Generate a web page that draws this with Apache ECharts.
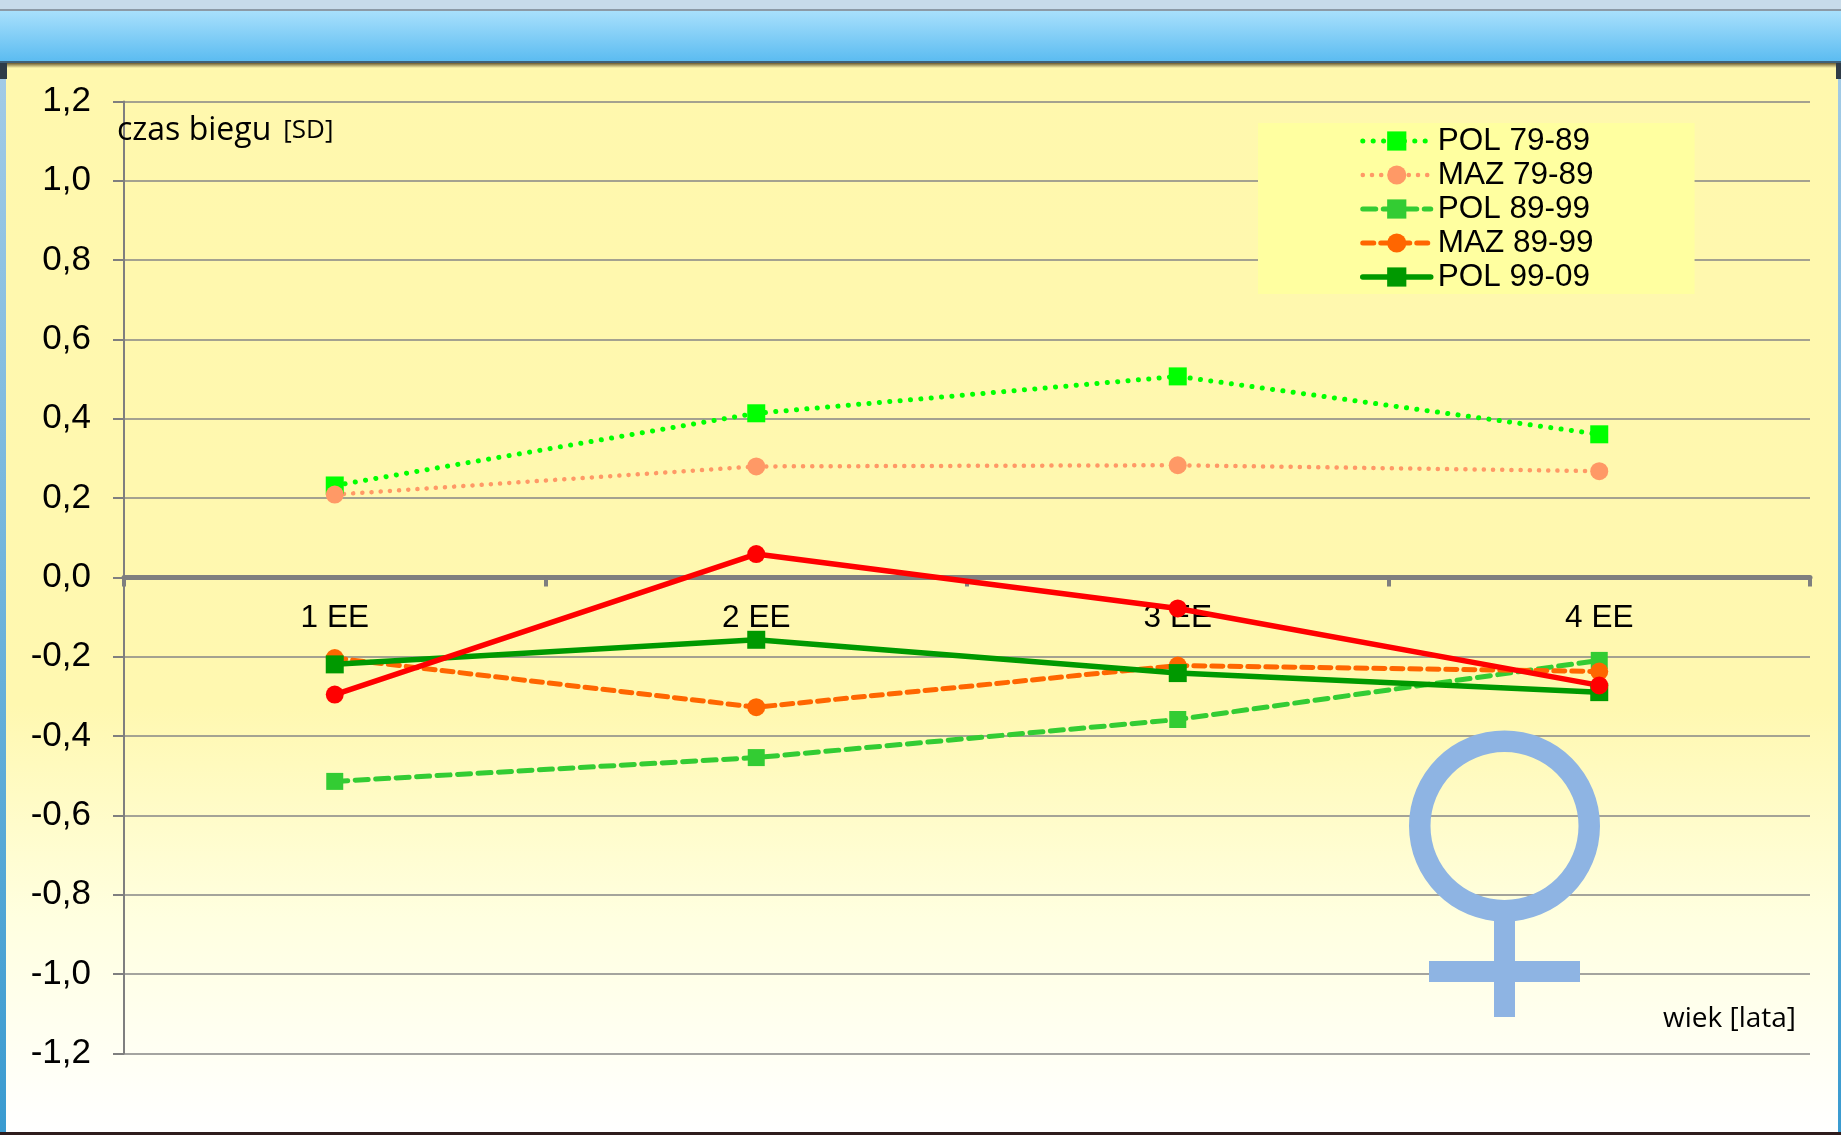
<!DOCTYPE html>
<html>
<head>
<meta charset="utf-8">
<style>
html, body { margin: 0; padding: 0; background: #fff; }
#chart { width: 1841px; height: 1135px; }
</style>
<script src="https://cdn.jsdelivr.net/npm/echarts@6/dist/echarts.min.js"></script>
</head>
<body>
<div id="chart"></div>
<script>
var categories = ['1 EE', '2 EE', '3 EE', '4 EE'];
var pol7989 = [0.232, 0.414, 0.507, 0.361];
var maz7989 = [0.209, 0.280, 0.283, 0.268];
var pol8999 = [-0.514, -0.454, -0.358, -0.209];
var maz8999 = [-0.203, -0.327, -0.222, -0.237];
var pol9909 = [-0.219, -0.157, -0.241, -0.289];
var maz9909 = [-0.295, 0.059, -0.078, -0.272];
var legendNames = ['POL 79-89', 'MAZ 79-89', 'POL 89-99', 'MAZ 89-99', 'POL 99-09'];

var sansFont = '"Liberation Sans", Arial, sans-serif';
var noteFont = '"Open Sans", "Noto Sans", sans-serif';
var axisGrey = '#7f7f7f';

function rect(x, y, w, h, fill, z) {
    return { type: 'rect', silent: true, z: z, shape: { x: x, y: y, width: w, height: h }, style: { fill: fill } };
}

function vGrad(stops) {
    return new echarts.graphic.LinearGradient(0, 0, 0, 1, stops);
}

function lineSeries(name, data, color, width, dash, symbol, size) {
    return {
        name: name,
        type: 'line',
        data: data,
        symbol: symbol,
        symbolSize: size,
        itemStyle: { color: color },
        lineStyle: { color: color, width: width, type: dash, cap: 'round' }
    };
}

var option = {
    animation: false,
    backgroundColor: 'transparent',
    grid: { left: 124, right: 31, top: 101.5, height: 952 },
    legend: {
        data: legendNames,
        orient: 'vertical',
        left: 1258,
        top: 123,
        padding: [2, 101, 1, 102],
        backgroundColor: '#ffffa0',
        itemWidth: 68,
        itemHeight: 24,
        itemGap: 2,
        lineStyle: { width: 'inherit', cap: 'inherit' },
        textStyle: { fontFamily: sansFont, fontSize: 31.5, color: '#000', lineHeight: 24, padding: [0, 0, 0, 2] }
    },
    xAxis: {
        type: 'category',
        data: categories,
        position: 'bottom',
        offset: -476,
        axisLine: { onZero: false, lineStyle: { color: axisGrey, width: 5 } },
        axisTick: { show: true, length: 9, lineStyle: { color: axisGrey, width: 4 } },
        axisLabel: { fontFamily: sansFont, fontSize: 31.5, color: '#000', margin: 25 }
    },
    yAxis: {
        type: 'value',
        min: -1.2,
        max: 1.2,
        interval: 0.2,
        axisLine: { show: true, onZero: false, lineStyle: { color: axisGrey, width: 2 } },
        axisTick: { show: true, length: 11, lineStyle: { color: axisGrey, width: 2 } },
        axisLabel: {
            fontFamily: sansFont, fontSize: 35, color: '#000', margin: 33, padding: [2, 0, 0, 0],
            formatter: function (v) { return v.toFixed(1).replace('.', ','); }
        },
        splitLine: { show: true, lineStyle: { color: '#868686', width: 1.5 } }
    },
    series: [
        lineSeries('POL 79-89', pol7989, '#00ff00', 5, [0.1, 10.3], 'rect', 18),
        lineSeries('MAZ 79-89', maz7989, '#ff9966', 4.5, [0.1, 9.1], 'circle', 18),
        lineSeries('POL 89-99', pol8999, '#33cc33', 5, [13, 7.5], 'rect', 17),
        lineSeries('MAZ 89-99', maz8999, '#ff6600', 5, [11, 7], 'circle', 18),
        lineSeries('POL 99-09', pol9909, '#009900', 5.5, 'solid', 'rect', 18),
        lineSeries('MAZ 99-09', maz9909, '#ff0000', 5.5, 'solid', 'circle', 18)
    ],
    graphic: [
        // tlo slajdu
        rect(0, 0, 1841, 9, '#c7dbea', -10),
        rect(0, 9, 1841, 2, '#8c9aa6', -10),
        rect(0, 11, 1841, 50, vGrad([{ offset: 0, color: '#a8e0fc' }, { offset: 1, color: '#5cbcf1' }]), -10),
        rect(0, 61, 1841, 2, '#3f6078', -10),
        rect(0, 63, 1841, 1069, vGrad([
            { offset: 0, color: '#fff8ad' },
            { offset: 0.6, color: '#fff8b0' },
            { offset: 0.8, color: '#ffffe0' },
            { offset: 1, color: '#ffffff' }
        ]), -10),
        rect(0, 63, 1841, 5, vGrad([{ offset: 0, color: '#6b5a30' }, { offset: 1, color: '#fff8ad' }]), -9),
        rect(0, 63, 6, 1069, vGrad([{ offset: 0, color: '#a3cbe6' }, { offset: 1, color: '#3a9bd0' }]), -9),
        rect(0, 63, 7, 16, '#2f3c48', -8),
        rect(1838, 63, 3, 1069, vGrad([{ offset: 0, color: '#a3cbe6' }, { offset: 1, color: '#3a9bd0' }]), -9),
        rect(1836, 63, 5, 16, '#2f3c48', -8),
        rect(0, 1132, 1841, 3, '#2e1c1c', -8),
        // symbol plci
        {
            type: 'ring', silent: true, z: 1,
            shape: { cx: 1504.5, cy: 826, r: 95.5, r0: 74 },
            style: { fill: '#8eb4e3' }
        },
        rect(1494, 915, 21, 102, '#8eb4e3', 1),
        rect(1429, 961, 151, 21, '#8eb4e3', 1),
        {
            type: 'text', silent: true, z: 3, left: 117, top: 115,
            style: {
                text: '{a|czas biegu}{b|[SD]}',
                fill: '#000',
                rich: {
                    a: { fontFamily: noteFont, fontSize: 32, fill: '#000' },
                    b: { fontFamily: noteFont, fontSize: 26, fill: '#000', padding: [0, 0, 0, 12] }
                }
            }
        },
        {
            type: 'text', silent: true, z: 3, left: 1663, top: 1005,
            style: { text: 'wiek [lata]', fill: '#000', font: '28px ' + noteFont }
        }
    ]
};

var myChart = echarts.init(document.getElementById('chart'), null, { renderer: 'canvas' });
myChart.setOption(option);
</script>
</body>
</html>
